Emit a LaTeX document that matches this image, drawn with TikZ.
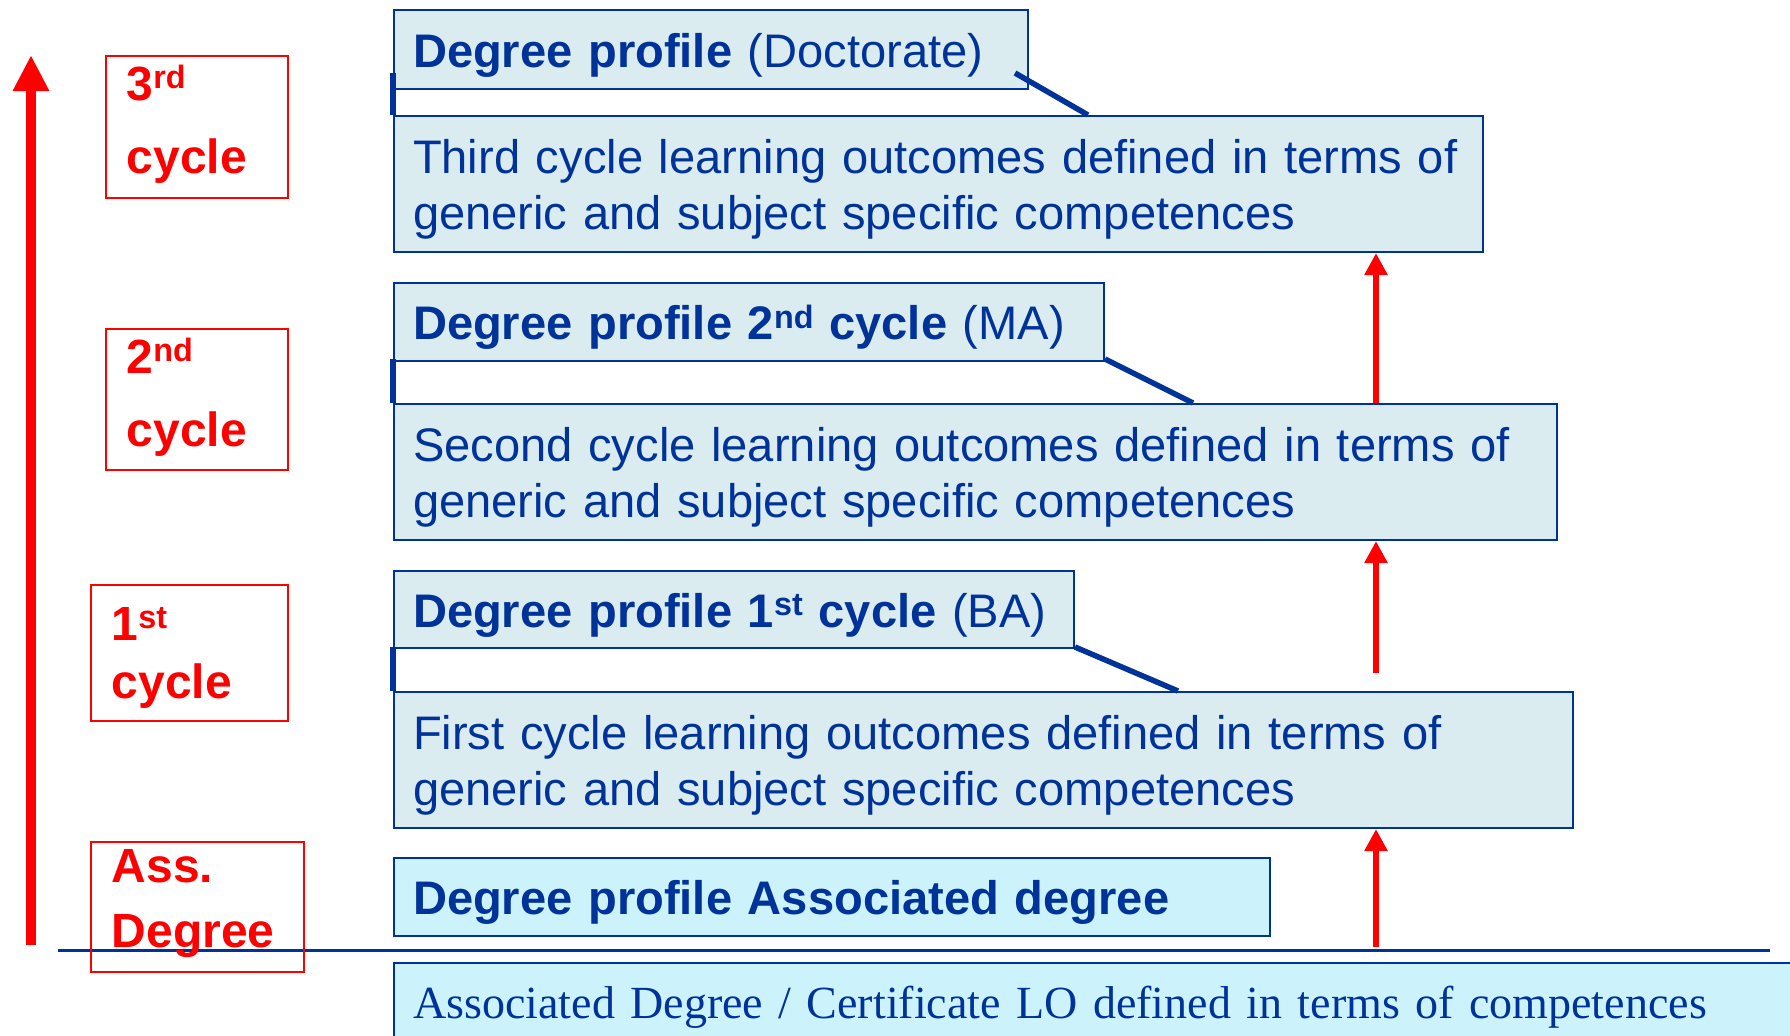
\documentclass[tikz,border=0pt]{standalone}
\usepackage{fontspec}
\setmainfont{Liberation Sans}
\newfontfamily\loserif{Liberation Serif}
\usetikzlibrary{arrows.meta,positioning}

\definecolor{dkblue}{RGB}{0,51,153}
\definecolor{paleblue}{RGB}{219,236,240}
\definecolor{cyanbox}{RGB}{204,243,252}

\newcommand\ordsup[1]{\raisebox{0.24em}{\fontsize{9.2pt}{0pt}\selectfont #1}}

\begin{document}
\begin{tikzpicture}[
        profile/.style={draw=dkblue, line width=0.02cm, fill=paleblue, anchor=north west, text=dkblue,
            inner xsep=0.19cm, inner ysep=0pt, align=left, text width=#1-0.38cm, text height=0.45cm,
            font=\fontsize{13.4pt}{16pt}\selectfont},
        cyclebox/.style={draw=red, line width=0.02cm, anchor=north west, inner sep=0pt},
        cycletext/.style={text=red, anchor=base west, inner sep=0pt, align=left, text width=2cm,
            font=\bfseries\fontsize{13.66pt}{#1}\selectfont},
        uparrow/.style={red, line width=0.065cm, -{Triangle[width=0.22cm,length=0.22cm]}},
        bigarrow/.style={red, line width=0.1cm, -{Triangle[width=0.34cm,length=0.36cm]}},
        link/.style={dkblue, line width=0.055cm},
        tick/.style={dkblue, line width=0.06cm},
        floorline/.style={dkblue, line width=0.03cm}
    ]
        \useasboundingbox (0, 0) rectangle (17.9, -10.35);
        \clip (0, 0) rectangle (17.9, -10.35);

        \coordinate (axisbot) at (0.31, -9.45);
        \coordinate (axistop) at (0.31, -0.55);
        \coordinate (floorl) at (0.58, -9.50);
        \coordinate (floorr) at (17.70, -9.50);
        \draw[bigarrow] (axisbot) -- (axistop);
        \draw[floorline] (floorl) -- (floorr);

        \node[cyclebox, minimum width=1.82cm, minimum height=1.42cm] (c3) at (1.05, -0.55) {};
        \node[cyclebox, minimum width=1.82cm, minimum height=1.41cm] (c2) at (1.05, -3.28) {};
        \node[cyclebox, minimum width=1.97cm, minimum height=1.36cm] (c1) at (0.90, -5.84) {};
        \node[cyclebox, minimum width=2.13cm, minimum height=1.30cm] (cass) at (0.90, -8.41) {};
        \node[cycletext=21pt] (c3t) at (1.26, -1.00) {3\ordsup{rd}\\cycle};
        \node[cycletext=20.8pt] (c2t) at (1.26, -3.73) {2\ordsup{nd}\\cycle};
        \node[cycletext=16.5pt] (c1t) at (1.11, -6.40) {1\ordsup{st}\\cycle};
        \node[cycletext=18.5pt] (casst) at (1.11, -8.82) {Ass.\\Degree};

        \node[profile=6.34cm, minimum height=0.79cm] (hdoc) at (3.93, -0.09)
            {\mbox{\textbf{Degree profile} (Doctorate)}};
        \node[profile=10.89cm, minimum height=1.36cm] (ldoc) at (3.93, -1.15)
            {\mbox{Third cycle learning outcomes defined in terms of}\\generic and subject specific competences};
        \node[profile=7.10cm, minimum height=0.78cm] (hma) at (3.93, -2.82)
            {\mbox{\textbf{Degree profile 2\ordsup{nd} cycle} (MA)}};
        \node[profile=11.63cm, minimum height=1.36cm] (lma) at (3.93, -4.03)
            {\mbox{Second cycle learning outcomes defined in terms of}\\generic and subject specific competences};
        \node[profile=6.80cm, minimum height=0.77cm] (hba) at (3.93, -5.70)
            {\mbox{\textbf{Degree profile 1\ordsup{st} cycle} (BA)}};
        \node[profile=11.79cm, minimum height=1.36cm] (lba) at (3.93, -6.91)
            {\mbox{First cycle learning outcomes defined in terms of}\\generic and subject specific competences};
        \node[profile=8.76cm, minimum height=0.78cm, fill=cyanbox] (hass) at (3.93, -8.57)
            {\mbox{\textbf{Degree profile Associated degree}}};
        \node[profile=14.50cm, minimum height=0.76cm, fill=cyanbox, font=\loserif\fontsize{13.1pt}{16pt}\selectfont] (lass) at (3.93, -9.62)
            {\mbox{Associated Degree / Certificate LO defined in terms of competences}};

        \draw[link] ([shift={(-0.14,0.17)}]hdoc.south east) -- ([xshift=6.95cm]ldoc.north west);
        \draw[link] ([yshift=0.03cm]hma.south east) -- ([xshift=8.00cm]lma.north west);
        \draw[link] ([yshift=0.02cm]hba.south east) -- ([xshift=7.85cm]lba.north west);
        \draw[tick] ([yshift=0.17cm]hdoc.south west) -- (ldoc.north west);
        \draw[tick] ([yshift=0.03cm]hma.south west) -- (lma.north west);
        \draw[tick] ([yshift=0.02cm]hba.south west) -- (lba.north west);

        \coordinate (a1) at (13.76, -9.47);
        \coordinate (a2) at (13.76, -6.73);
        \draw[uparrow] (a1) -- (a1 |- lba.south);
        \draw[uparrow] (a2) -- (a2 |- lma.south);
        \draw[uparrow] (a2 |- lma.north) -- (a2 |- ldoc.south);
    \end{tikzpicture}
\end{document}
